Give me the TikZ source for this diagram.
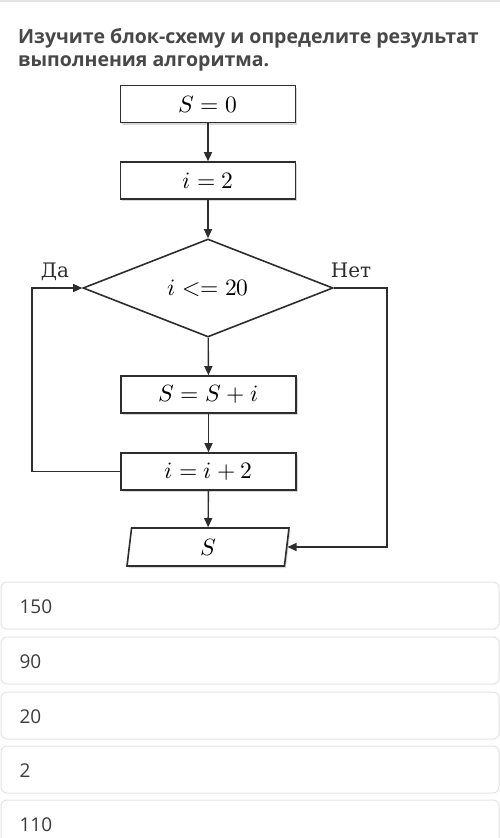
\documentclass[tikz,border=0pt]{standalone}
\usepackage{fontspec}
\usepackage{unicode-math}
\setmainfont{Liberation Serif}
\setmathfont{Latin Modern Math}
\newfontfamily\uifont{Open Sans}
\newfontfamily\labelfont{DejaVu Serif}
\usepackage{tikz}
\usetikzlibrary{arrows.meta, shapes.geometric, shadows}
\definecolor{titlegray}{RGB}{72, 72, 72}
\definecolor{linegray}{RGB}{45, 45, 45}
\definecolor{cardline}{RGB}{228, 228, 228}
\definecolor{answergray}{RGB}{60, 60, 60}

\tikzset{
  procbox/.style={draw=linegray, line width=1.6pt, fill=white, minimum width=175pt,
    minimum height=37pt, inner sep=0pt, font=\fontsize{23.5}{27}\selectfont,
    drop shadow={opacity=0.3, shadow xshift=1.5pt, shadow yshift=-2pt}},
  decision/.style={draw=linegray, line width=1.6pt, fill=white, diamond, aspect=2.55,
    minimum width=250pt, minimum height=98pt, inner sep=0pt, font=\fontsize{23.5}{27}\selectfont},
  iobox/.style={procbox, trapezium, trapezium left angle=75, trapezium right angle=105,
    trapezium stretches body=true, minimum width=162pt, minimum height=38pt},
  flowarrow/.style={draw=linegray, line width=1.4pt, -{Triangle[length=9pt, width=8pt]}},
  branchlabel/.style={anchor=base, font=\labelfont\fontsize{20}{24}\selectfont, text=linegray},
  answercard/.style={draw=cardline, line width=1pt, rounded corners=6pt},
  answertext/.style={anchor=base west, text=answergray, font=\uifont\fontsize{19}{22}\selectfont},
}

\begin{document}
\begin{tikzpicture}[x=1pt, y=-1pt]

  \clip (0,0) rectangle (500,838);
  \fill[white] (0,0) rectangle (500,838);

  % Question
  \draw[cardline, line width=2pt] (0,1) -- (500,1);
  \node[anchor=base west, text=titlegray, font=\uifont\bfseries\fontsize{19.5}{24}\selectfont, inner sep=0pt]
    (title1) at (18,43) {Изучите блок-схему и определите результат};
  \node[anchor=base west, text=titlegray, font=\uifont\bfseries\fontsize{19.5}{24}\selectfont, inner sep=0pt]
    (title2) at (18,66) {выполнения алгоритма.};

  % Flowchart blocks
  \node[procbox] (s0) at (208,104) {$S=0$};
  \node[procbox] (i2) at (208,180.5) {$i=2$};
  \node[decision] (cond) at (208,288) {$i <= 20$};
  \node[procbox] (sum) at (208.5,394.5) {$S=S+i$};
  \node[procbox] (inc) at (208.5,471.5) {$i=i+2$};
  \node[iobox] (out) at (208,547) {$S$};

  % Branch labels
  \node[branchlabel] (yes) at (55,277) {Да};
  \node[branchlabel] (no) at (351,277) {Нет};

  % Connectors
  \coordinate (loopL) at (32,0);
  \coordinate (loopR) at (387,0);
  \draw[flowarrow] (s0) -- (i2);
  \draw[flowarrow] (i2) -- (cond);
  \draw[flowarrow] (cond) -- (sum);
  \draw[flowarrow] (sum) -- (inc);
  \draw[flowarrow] (inc) -- (out);
  \draw[flowarrow] (inc.west) -- (loopL |- inc.west) -- (loopL |- cond.west) -- (cond.west);
  \draw[flowarrow] (cond.east) -- (loopR |- cond.east) -- (loopR |- out.east) -- (out.east);

  % Answer options
  \foreach \top/\val in {582/150, 637/90, 692/20, 746/2, 800/110} {
    \draw[answercard] (1,\top) rectangle (499,\top+47);
    \node[answertext] at (16,\top+31) {\val};
  }

\end{tikzpicture}
\end{document}
